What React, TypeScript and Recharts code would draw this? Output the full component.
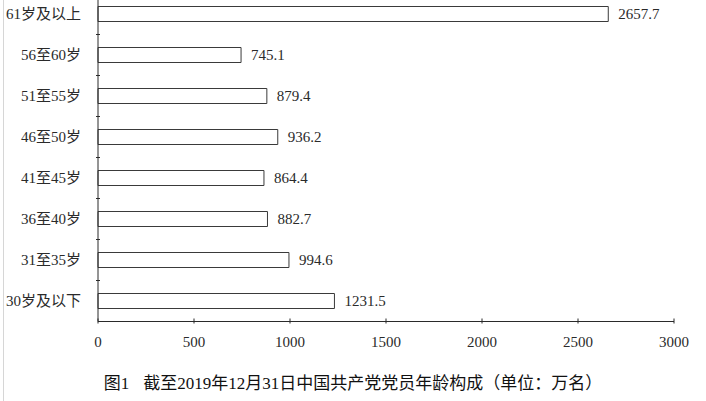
import React from 'react';
import { BarChart, Bar, XAxis, YAxis, LabelList } from 'recharts';

// 截至2019年12月31日 党员年龄构成（万名）
const ageGroups = [
  '61岁及以上',
  '56至60岁',
  '51至55岁',
  '46至50岁',
  '41至45岁',
  '36至40岁',
  '31至35岁',
  '30岁及以下',
];
const members = [2657.7, 745.1, 879.4, 936.2, 864.4, 882.7, 994.6, 1231.5];
const xTicks = [0, 500, 1000, 1500, 2000, 2500, 3000];

const FONT = '"Liberation Serif", "Times New Roman", "Noto Sans CJK SC", serif';
const INK = '#2a2a2a';

const data = ageGroups.map((name, i) => ({ name, value: members[i] }));

const XTick = (props: any) => {
  const { x, y, payload } = props;
  return (
    <g>
      <line x1={x} x2={x} y1={y - 5} y2={y} stroke={INK} />
      <text x={x} y={y + 23} textAnchor="middle" fontSize={15} fill={INK} fontFamily={FONT}>
        {payload.value}
      </text>
    </g>
  );
};

// category label plus a short inward tick at the upper edge of each band
const CatTick = (props: any) => {
  const { x, y, payload, index } = props;
  const half = typeof payload?.offset === 'number' && payload.offset > 0 ? payload.offset : 20.5;
  return (
    <g>
      {index > 0 && <line x1={x} x2={x + 4} y1={y - half} y2={y - half} stroke={INK} />}
      <text x={x - 15} y={y + 5} textAnchor="end" fontSize={15} fill={INK} fontFamily={FONT}>
        {payload.value}
      </text>
    </g>
  );
};

export default function App() {
  return (
    <div
      style={{
        position: 'absolute',
        left: 0,
        top: 0,
        width: 706,
        height: 401,
        overflow: 'hidden',
        background: '#fff',
      }}
    >
      <div style={{ position: 'absolute', left: 3, top: 0, width: 1, height: 401, background: '#d6d6d6' }} />
      <div style={{ position: 'absolute', left: 0, top: -20 }}>
        <BarChart
          width={706}
          height={421}
          data={data}
          layout="vertical"
          margin={{ top: 13.5, right: 32, left: 8, bottom: 49.5 }}
        >
          <XAxis
            type="number"
            domain={[0, 3000]}
            ticks={xTicks}
            height={30}
            axisLine={{ stroke: INK }}
            tickLine={false}
            tickSize={0}
            tick={XTick}
            interval={0}
          />
          <YAxis
            type="category"
            dataKey="name"
            width={90}
            axisLine={{ stroke: INK, strokeWidth: 1 }}
            tickLine={false}
            tickSize={0}
            tick={CatTick}
            interval={0}
          />
          <Bar dataKey="value" fill="#fff" stroke="#3a3a3a" strokeWidth={1} barSize={15} isAnimationActive={false}>
            <LabelList
              dataKey="value"
              position="right"
              offset={10}
              fontSize={15}
              fill={INK}
              fontFamily={FONT}
              formatter={(v: any) => Number(v).toFixed(1)}
            />
          </Bar>
        </BarChart>
      </div>
      <div
        style={{
          position: 'absolute',
          left: 0,
          width: 706,
          top: 369,
          textAlign: 'center',
          fontFamily: FONT,
          fontSize: 17,
          color: '#111',
        }}
      >
        <span style={{ marginRight: 14 }}>图1</span>截至2019年12月31日中国共产党党员年龄构成（单位：万名）
      </div>
    </div>
  );
}
